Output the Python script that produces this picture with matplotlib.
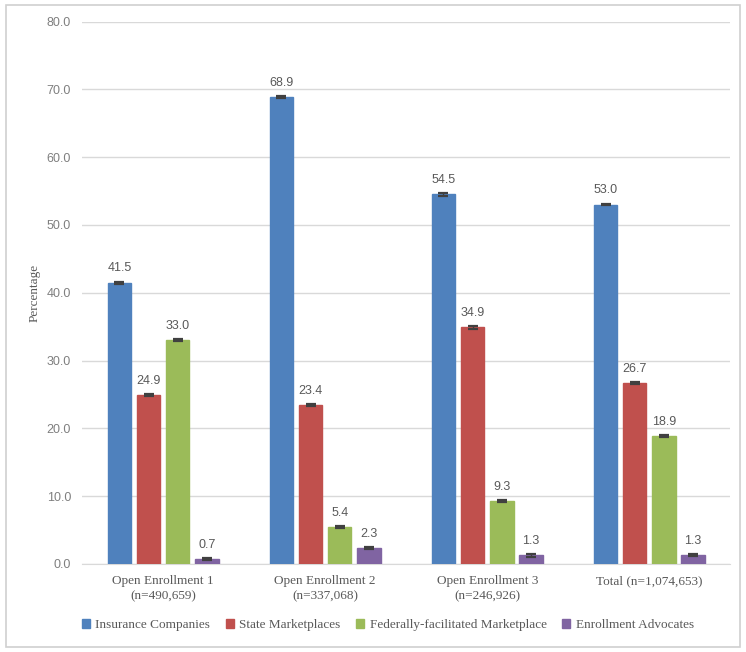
#!/usr/bin/env python3
"""Enrollment source percentages by open enrollment period."""

import matplotlib
matplotlib.use("Agg")
import matplotlib.pyplot as plt
import numpy as np
from matplotlib.patches import Rectangle


CATEGORIES = ["Open Enrollment 1\n(n=490,659)", "Open Enrollment 2\n(n=337,068)",
              "Open Enrollment 3\n(n=246,926)", "Total (n=1,074,653)"]
SERIES = ["Insurance Companies", "State Marketplaces",
          "Federally-facilitated Marketplace", "Enrollment Advocates"]
INSURANCE = [41.5, 68.9, 54.5, 53.0]
STATE = [24.9, 23.4, 34.9, 26.7]
FEDERAL = [33.0, 5.4, 9.3, 18.9]
ADVOCATES = [0.7, 2.3, 1.3, 1.3]
ERRORS = [0.15, 0.15, 0.2, 0.1]
Y_TICKS = [0, 10, 20, 30, 40, 50, 60, 70, 80]

COLORS = ["#4F81BD", "#C0504D", "#9BBB59", "#8064A2"]
SERIF = ["Liberation Serif", "DejaVu Serif"]
SANS = ["Liberation Sans", "DejaVu Sans"]


def main():
    fig = plt.figure(figsize=(7.46, 6.52), dpi=100)
    fig.patches.append(Rectangle((0.008, 0.008), 0.984, 0.984, transform=fig.transFigure,
                                 fill=False, edgecolor="#d0d0d0", linewidth=1.2))
    ax = fig.add_axes([0.11, 0.135, 0.869, 0.832])

    values = [INSURANCE, STATE, FEDERAL, ADVOCATES]
    x = np.arange(len(CATEGORIES))
    step = 0.18
    width = 0.145
    for i, (name, vals, color) in enumerate(zip(SERIES, values, COLORS)):
        pos = x + (i - 1.5) * step
        ax.bar(pos, vals, width, color=color, edgecolor=color, label=name,
               yerr=ERRORS, error_kw=dict(ecolor="#404040", elinewidth=1.0, capsize=3.5, capthick=1.6),
               zorder=3)
        for xp, v in zip(pos, vals):
            ax.text(xp, v + 1.2, "{:.1f}".format(v), ha="center", va="bottom",
                    fontsize=9, color="#595959", family=SANS)

    ax.set_xlim(-0.5, len(CATEGORIES) - 0.5)
    ax.set_ylim(0, 80)
    ax.set_yticks(Y_TICKS)
    ax.set_yticklabels(["{:.1f}".format(t) for t in Y_TICKS], family=SANS, fontsize=9, color="#7f7f7f")
    ax.set_xticks(x)
    ax.set_xticklabels(CATEGORIES, family=SERIF, fontsize=9.5, color="#595959", linespacing=1.4)
    ax.tick_params(axis="both", length=0, pad=8)
    ax.grid(axis="y", color="#d9d9d9", linewidth=1.0, zorder=0)
    for side in ("top", "right", "left"):
        ax.spines[side].set_visible(False)
    ax.spines["bottom"].set_color("#d9d9d9")
    ax.set_ylabel("Percentage", family=SERIF, fontsize=9.5, color="#595959", labelpad=4)

    fig.legend(loc="center", bbox_to_anchor=(0.52, 0.041), ncol=4, frameon=False,
               prop={"family": SERIF, "size": 9.5}, labelcolor="#595959",
               handlelength=0.6, handleheight=0.6, handletextpad=0.4, columnspacing=1.2)
    fig.savefig("out.png", dpi=100)
    plt.close(fig)


if __name__ == "__main__":
    main()
